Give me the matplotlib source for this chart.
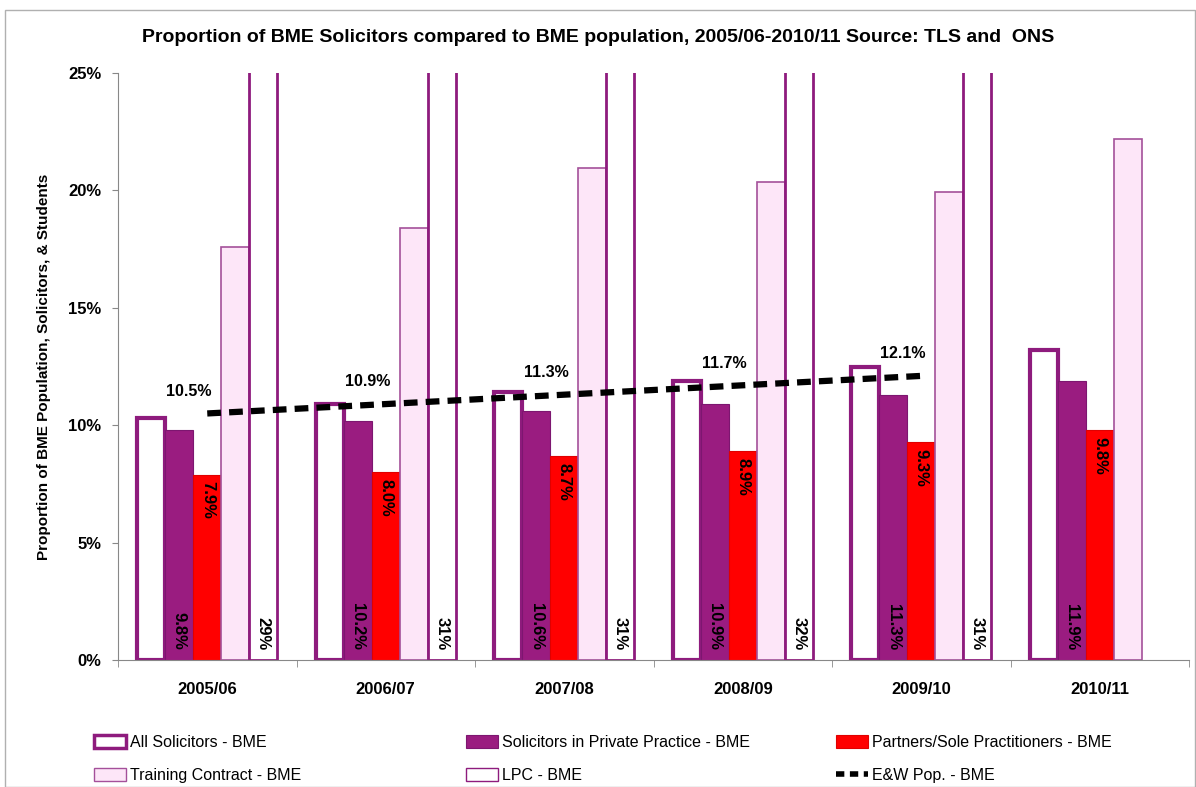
import matplotlib

matplotlib.use("Agg")

import matplotlib.pyplot as plt
import numpy as np
from matplotlib.lines import Line2D
from matplotlib.patches import Patch, Rectangle

years = ["2005/06", "2006/07", "2007/08", "2008/09", "2009/10", "2010/11"]
all_solicitors = [10.3, 10.9, 11.4, 11.9, 12.5, 13.2]
private_practice = [9.8, 10.2, 10.6, 10.9, 11.3, 11.9]
partners = [7.9, 8.0, 8.7, 8.9, 9.3, 9.8]
training_contract = [17.6, 18.4, 20.95, 20.35, 19.95, 22.2]
lpc = [29, 31, 31, 32, 31, np.nan]
ew_pop = [10.5, 10.9, 11.3, 11.7, 12.1]

PURPLE = "#8e1b7d"
PURPLE_FILL = "#9a1c80"
RED = "#ff0000"
PINK = "#fde6f8"

plt.rcParams["font.family"] = ["Liberation Sans", "DejaVu Sans"]

fig = plt.figure(figsize=(11.96, 7.87), dpi=100)
fig.patches.append(
    Rectangle((5 / 1196, 0), 1190 / 1196, 777 / 787, transform=fig.transFigure,
              fill=False, edgecolor="#b0b0b0", lw=1.0)
)
ax = fig.add_axes([118 / 1196, 127 / 787, 1071 / 1196, 587 / 787])

x = np.arange(len(years))
w = 0.157
offsets = (np.arange(5) - 2) * w

ax.bar(x + offsets[0], all_solicitors, w, facecolor="white", edgecolor=PURPLE, lw=3.0, zorder=2)
ax.bar(x + offsets[1], private_practice, w, facecolor=PURPLE_FILL, edgecolor="#7d1670", lw=0.8, zorder=2)
ax.bar(x + offsets[2], partners, w, facecolor=RED, edgecolor="#e00000", lw=0.8, zorder=2)
ax.bar(x + offsets[3], training_contract, w, facecolor=PINK, edgecolor="#a4509a", lw=1.2, zorder=2)
ax.bar(x + offsets[4], lpc, w, facecolor="white", edgecolor=PURPLE, lw=2.0, zorder=2)

ew_x = x[: len(ew_pop)]
ax.plot(ew_x, ew_pop, color="black", lw=4.5, ls=(0, (2.2, 1.3)), zorder=4)

label_kw = dict(fontsize=12, fontweight="bold", color="black", rotation=270,
                ha="center", zorder=5)
for i in range(len(years)):
    ax.annotate(f"{private_practice[i]:.1f}%", (x[i] + offsets[1], 0), xytext=(0, 7),
                textcoords="offset points", va="bottom", **label_kw)
    ax.annotate(f"{partners[i]:.1f}%", (x[i] + offsets[2], partners[i]), xytext=(0, -5),
                textcoords="offset points", va="top", **label_kw)
    if not np.isnan(lpc[i]):
        ax.annotate(f"{lpc[i]:.0f}%", (x[i] + offsets[4], 0), xytext=(0, 7),
                    textcoords="offset points", va="bottom", **label_kw)
for i, v in enumerate(ew_pop):
    ax.annotate(f"{v:.1f}%", (ew_x[i], v), xytext=(-13, 16), textcoords="offset points",
                ha="center", va="center", fontsize=11.5, fontweight="bold", zorder=5)

ax.set_xlim(-0.5, len(years) - 0.5)
ax.set_ylim(0, 25)
ax.set_yticks(np.arange(0, 26, 5))
ax.set_yticklabels([f"{t}%" for t in range(0, 26, 5)], fontsize=12, fontweight="bold")
ax.set_xticks(x)
ax.set_xticklabels(years, fontsize=12, fontweight="bold")
ax.set_xticks(np.arange(-0.5, len(years), 1), minor=True)
ax.tick_params(axis="x", which="major", length=0, pad=16)
ax.tick_params(axis="x", which="minor", length=5, color="#888888", direction="out")
ax.tick_params(axis="y", length=4, color="#888888", pad=8)
for side in ["top", "right"]:
    ax.spines[side].set_visible(False)
for side in ["left", "bottom"]:
    ax.spines[side].set_color("#888888")
ax.set_ylabel("Proportion of BME Population, Solicitors, & Students", fontsize=11,
              fontweight="bold", labelpad=12)

fig.text(0.5, 1 - 38 / 787, "Proportion of BME Solicitors compared to BME population, "
         "2005/06-2010/11 Source: TLS and  ONS", ha="center", va="center",
         fontsize=14, fontweight="bold")

legend_cols = [
    [(Patch(facecolor="white", edgecolor=PURPLE, lw=2.5), "All Solicitors - BME"),
     (Patch(facecolor=PINK, edgecolor="#a4509a", lw=1.0), "Training Contract - BME")],
    [(Patch(facecolor=PURPLE_FILL, edgecolor="#7d1670", lw=0.8), "Solicitors in Private Practice - BME"),
     (Patch(facecolor="white", edgecolor=PURPLE, lw=1.0), "LPC - BME")],
    [(Patch(facecolor=RED, edgecolor="#e00000", lw=0.8), "Partners/Sole Practitioners - BME"),
     (Line2D([], [], color="black", lw=4, ls=(0, (1.5, 1))), "E&W Pop. - BME")],
]
for col, x0 in zip(legend_cols, [86, 458, 828]):
    handles, labels = zip(*col)
    fig.legend(handles, labels, loc="upper left", bbox_to_anchor=(x0 / 1196, 1 - 727 / 787),
               frameon=False, fontsize=11.5, handlelength=2.0, handleheight=0.9,
               handletextpad=0.25, labelspacing=1.1, borderpad=0)

fig.savefig("out.png", dpi=100)
